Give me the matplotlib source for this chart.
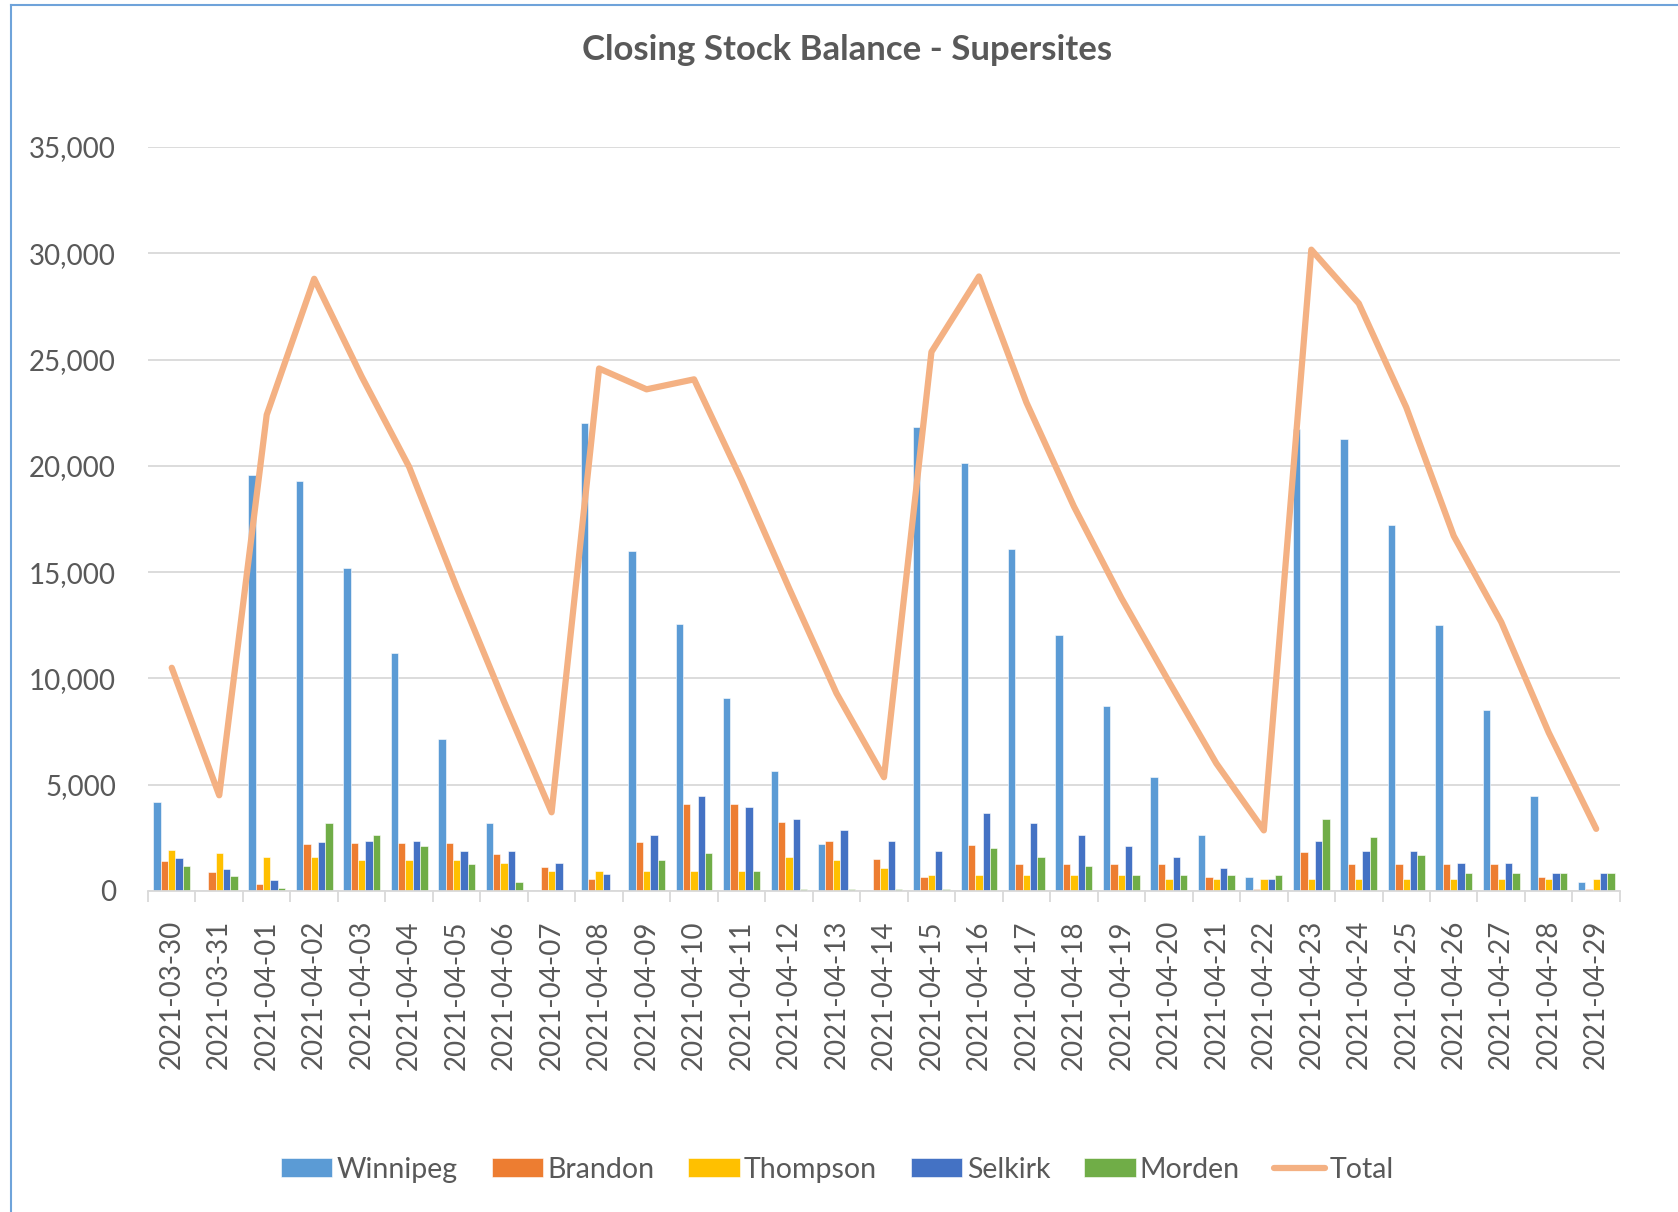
import matplotlib
matplotlib.use("Agg")
import matplotlib.pyplot as plt
from matplotlib.lines import Line2D
from matplotlib.ticker import FuncFormatter, FixedLocator
import numpy as np

plt.rcParams['font.family'] = ['Lato', 'DejaVu Sans']

# data
dates = ["2021-03-30", "2021-03-31"] + ["2021-04-%02d" % d for d in range(1, 30)]
winnipeg = [4200, -50, 19550, 19280, 15180, 11190, 7140, 3220, 0, 22020, 16000,
            12550, 9100, 5660, 2210, 50, 21840, 20150, 16100, 12060, 8710,
            5340, 2650, 660, 21730, 21250, 17210, 12500, 8490, 4460, 430]
brandon = [1390, 885, 350, 2200, 2240, 2240, 2240, 1740, 1120, 550, 2320,
           4080, 4080, 3240, 2370, 1520, 660, 2150, 1260, 1260, 1260,
           1260, 660, 80, 1850, 1260, 1260, 1260, 1260, 660, 80]
thompson = [1930, 1770, 1610, 1610, 1470, 1470, 1470, 1310, 950, 950, 950,
            950, 950, 1580, 1440, 1090, 730, 730, 730, 730, 730,
            570, 570, 570, 570, 570, 570, 570, 570, 570, 570]
selkirk = [1550, 1030, 510, 2320, 2370, 2370, 1860, 1860, 1330, 820, 2640,
           4460, 3930, 3400, 2890, 2370, 1860, 3680, 3180, 2640, 2120,
           1580, 1090, 570, 2370, 1860, 1860, 1330, 1330, 840, 840]
morden = [1190, 700, 160, 3180, 2640, 2130, 1260, 430, 20, 0, 1470,
          1800, 950, 80, 80, 80, 80, 2020, 1580, 1150, 730,
          730, 730, 730, 3370, 2530, 1690, 840, 840, 840, 840]
total = [10500, 4500, 22400, 28800, 24200, 19950, 14300, 8900, 3700, 24580, 23600,
         24070, 19330, 14250, 9300, 5350, 25360, 28910, 22980, 18090, 13780,
         9850, 6000, 2850, 30170, 27640, 22750, 16700, 12650, 7450, 2920]

sites = ["Winnipeg", "Brandon", "Thompson", "Selkirk", "Morden"]
series = [winnipeg, brandon, thompson, selkirk, morden]
colors = ["#5B9BD5", "#ED7D31", "#FFC000", "#4472C4", "#70AD47"]
total_color = "#F4B183"
text_color = "#595959"
grid_color = "#D9D9D9"

fig = plt.figure(figsize=(16.78, 12.12), dpi=100)
ax = fig.add_axes([0.0882, 0.2649, 0.8772, 0.6138])

x = np.arange(len(dates))
w = 0.155
handles = []
for i, (name, vals, c) in enumerate(zip(sites, series, colors)):
    b = ax.bar(x + (i - 2) * w, vals, width=w, color=c, label=name,
               edgecolor="white", linewidth=0.4, zorder=2)
    handles.append(b)

ln, = ax.plot(x, total, color=total_color, lw=4.5, solid_joinstyle="round",
              solid_capstyle="round", label="Total", zorder=3)
handles.append(ln)

ax.set_xlim(-0.5, len(dates) - 0.5)
ax.set_ylim(0, 35000)
ax.set_yticks(np.arange(0, 35001, 5000))
ax.yaxis.set_major_formatter(FuncFormatter(lambda v, p: f"{int(v):,}"))
ax.grid(axis="y", color=grid_color, lw=1.3, zorder=0)
ax.set_axisbelow(True)

ax.set_xticks(x)
ax.set_xticklabels(dates, rotation=90)
ax.xaxis.set_minor_locator(FixedLocator(np.arange(-0.5, len(dates), 1)))
ax.tick_params(axis="x", which="major", length=0, pad=21, labelsize=20,
               labelcolor=text_color)
ax.tick_params(axis="x", which="minor", length=8, width=1.3, color=grid_color)
ax.tick_params(axis="y", length=0, pad=23, labelsize=20, labelcolor=text_color)

for s in ["top", "right", "left"]:
    ax.spines[s].set_visible(False)
ax.spines["bottom"].set_color(grid_color)
ax.spines["bottom"].set_linewidth(1.3)

fig.text(0.505, 0.9587, "Closing Stock Balance - Supersites", ha="center",
         va="center", fontsize=25, fontweight="bold", color=text_color)

leg = fig.legend(handles, sites + ["Total"], loc="center",
                 bbox_to_anchor=(0.499, 0.0347), ncol=6, frameon=False,
                 fontsize=20.5, handlelength=1.8, handleheight=0.65,
                 handletextpad=0.15, columnspacing=1.2)
for t in leg.get_texts():
    t.set_color(text_color)

# chart border (top and left edges visible in the crop)
fig.add_artist(Line2D([0.00656, 1.0], [0.9959, 0.9959], color="#6FA3DA", lw=1.5,
                      transform=fig.transFigure))
fig.add_artist(Line2D([0.00656, 0.00656], [0.0, 0.9959], color="#6FA3DA", lw=1.5,
                      transform=fig.transFigure))

fig.savefig("out.png", dpi=100)
